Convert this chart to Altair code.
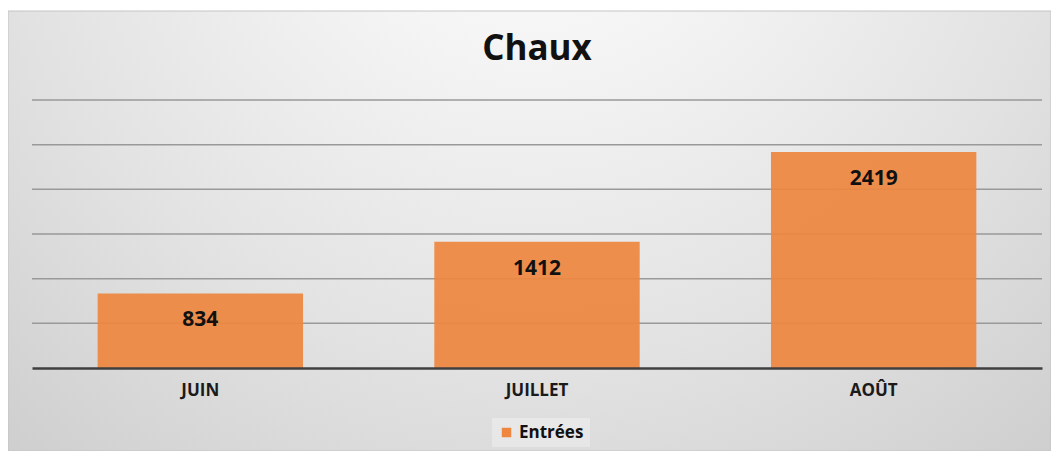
import altair as alt
import pandas as pd

months = ["JUIN", "JUILLET", "AOÛT"]
entrees = [834, 1412, 2419]
series_name = "Entrées"
grid_values = [500, 1000, 1500, 2000, 2500, 3000]

W, H = 1010, 268
PAD = {"left": 24, "top": 92, "right": 9, "bottom": 83}

df = pd.DataFrame({"mois": months, "valeur": entrees, "serie": [series_name] * 3})
grid_df = pd.DataFrame({"v": grid_values})
bg_df = pd.DataFrame({"a": [0]})

FONT = "Open Sans"
ORANGE = "#ee8640"

bg = alt.Chart(bg_df).mark_rect(
    fill=alt.Gradient(
        gradient="radial",
        x1=0.5, y1=0.12, r1=0.0,
        x2=0.5, y2=0.12, r2=0.85,
        stops=[
            alt.GradientStop(color="#ffffff", offset=0),
            alt.GradientStop(color="#f4f4f4", offset=0.25),
            alt.GradientStop(color="#e2e2e2", offset=0.6),
            alt.GradientStop(color="#c9c9c9", offset=1),
        ],
    ),
    stroke="#c4c4c4",
    strokeWidth=1,
).encode(
    x=alt.value(-PAD["left"]),
    x2=alt.value(W + PAD["right"]),
    y=alt.value(-PAD["top"] + 3),
    y2=alt.value(H + PAD["bottom"]),
)

y_scale = alt.Scale(domain=[0, 3000], nice=False)

grid = alt.Chart(grid_df).mark_rule(color="#999999", strokeWidth=1.5).encode(
    y=alt.Y("v:Q", scale=y_scale, axis=None),
    x=alt.value(0),
    x2=alt.value(W),
)

x_enc = alt.X(
    "mois:N",
    sort=months,
    title=None,
    scale=alt.Scale(paddingInner=0.39, paddingOuter=0.195),
    axis=alt.Axis(
        labelAngle=0,
        ticks=False,
        domain=True,
        domainColor="#3f3f3f",
        domainWidth=2.5,
        labelFont=FONT,
        labelFontSize=17,
        labelFontWeight="bold",
        labelColor="#1a1a1a",
        labelPadding=14,
        zindex=1,
    ),
)

bars = alt.Chart(df).mark_bar(opacity=0.93).encode(
    x=x_enc,
    y=alt.Y("valeur:Q", scale=y_scale, axis=None),
    color=alt.Color(
        "serie:N",
        scale=alt.Scale(domain=[series_name], range=[ORANGE]),
        legend=alt.Legend(
            title=None,
            orient="none",
            legendX=460,
            legendY=318,
            symbolType="square",
            symbolSize=90,
            symbolOpacity=1,
            labelFont=FONT,
            labelFontSize=17,
            labelFontWeight="bold",
            labelColor="#111111",
            fillColor="rgba(255,255,255,0.3)",
            padding=6,
        ),
    ),
)

labels = alt.Chart(df).mark_text(
    font=FONT, fontSize=21, fontWeight="bold", color="#111111", dy=27, baseline="middle"
).encode(
    x=alt.X("mois:N", sort=months),
    y=alt.Y("valeur:Q", scale=y_scale),
    text="valeur:Q",
)

chart = alt.layer(bg, grid, bars, labels).properties(
    width=W,
    height=H,
    padding=PAD,
    autosize=alt.AutoSizeParams(type="none"),
    background="white",
    title=alt.TitleParams(
        "Chaux",
        font=FONT,
        fontSize=35,
        fontWeight="bold",
        color="#111111",
        anchor="middle",
        baseline="alphabetic",
        offset=0,
        dy=84,
    ),
).configure_view(stroke=None)

chart.save("out.html", embed_options={"renderer": "svg", "actions": False})
